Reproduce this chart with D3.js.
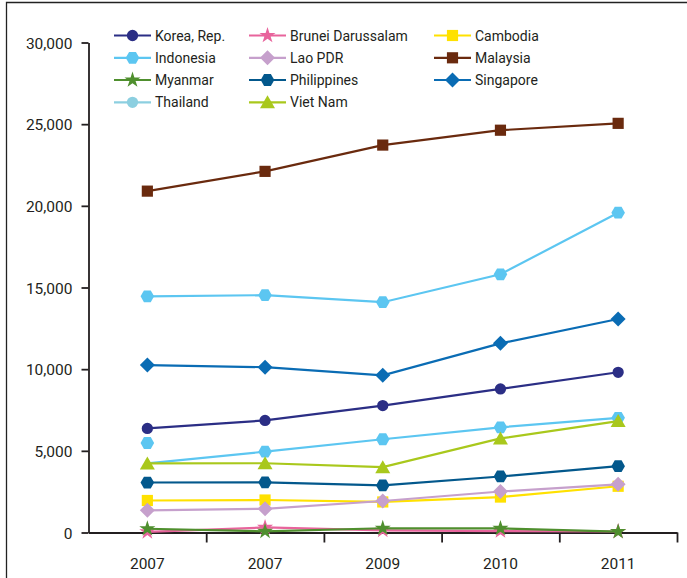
<!DOCTYPE html>
<html>
<head>
<meta charset="utf-8">
<script src="https://cdn.jsdelivr.net/npm/d3@7"></script>
<style>
  html, body { margin: 0; padding: 0; background: #fff; }
  svg { display: block; font-family: Roboto, "Noto Sans", sans-serif; }
</style>
</head>
<body>
<svg id="chart" width="687" height="578"></svg>
<script>
// ---- data ----
const categories = ["2007", "2007", "2009", "2010", "2011"];
const yTicks = [0, 5000, 10000, 15000, 20000, 25000, 30000];

const seriesNames = ["Korea, Rep.", "Brunei Darussalam", "Cambodia", "Indonesia", "Lao PDR",
  "Malaysia", "Myanmar", "Philippines", "Singapore", "Thailand", "Viet Nam"];

const korea       = [6370, 6860, 7770, 8790, 9810];
const brunei      = [40, 310, 130, 90, 60];
const cambodia    = [1960, 1990, 1870, 2170, 2830];
const indonesia   = [14460, 14530, 14100, 15810, 19580];
const lao         = [1360, 1450, 1930, 2510, 2950];
const malaysia    = [20900, 22110, 23720, 24630, 25050];
const myanmar     = [230, 70, 260, 250, 50];
const philippines = [3060, 3070, 2880, 3430, 4060];
const singapore   = [10250, 10120, 9620, 11580, 13070];
const thailandLine    = [4230, 4950, 5710, 6440, 7020];
const thailandMarkers = [5480, 4950, 5710, 6440, 7020];
const vietnam     = [4230, 4240, 4000, 5760, 6820];

const seriesValues = [korea, brunei, cambodia, indonesia, lao, malaysia, myanmar,
  philippines, singapore, thailandLine, vietnam];
const seriesMarkerValues = [korea, brunei, cambodia, indonesia, lao, malaysia, myanmar,
  philippines, singapore, thailandMarkers, vietnam];

// ---- styles ----
const lineColors = ["#2b2e85", "#e8649c", "#ffe100", "#5cc6f1", "#c6a0cc", "#6a2a0e",
  "#4f8f2e", "#03588c", "#0a6cb4", "#5cc6f1", "#a9c81c"];
const legendColors = ["#2b2e85", "#e8649c", "#ffe100", "#5cc6f1", "#c6a0cc", "#6a2a0e",
  "#4f8f2e", "#03588c", "#0a6cb4", "#8ccfe0", "#a9c81c"];
const shapes = ["circle", "star", "square", "hexagon", "diamond", "square",
  "star", "hexagon", "diamond", "hexagon", "triangle"];
const legendShapes = ["circle", "star", "square", "hexagon", "diamond", "square",
  "star", "hexagon", "diamond", "circle", "triangle"];

// ---- layout ----
const svg = d3.select("#chart");
const left = 88.5, right = 677, y0 = 532.5, yTop = 42.5;

svg.append("path")
  .attr("d", "M6.5,578 V2.5 H687")
  .attr("fill", "none").attr("stroke", "#222").attr("stroke-width", 1.3);

const x = d3.scaleBand().domain(d3.range(categories.length)).range([left, right]);
const xBound = d3.scaleLinear().domain([0, categories.length]).range([left, right]);
const y = d3.scaleLinear().domain([0, 30000]).range([y0, yTop]);

// y axis
const yAxis = svg.append("g").attr("transform", `translate(${left},0)`)
  .call(d3.axisLeft(y).tickValues(yTicks).tickSize(7).tickSizeOuter(0).tickPadding(9)
    .tickFormat(d3.format(",")));
yAxis.selectAll("path, line").attr("stroke", "#231f20").attr("stroke-width", 1.8);
yAxis.selectAll("text").attr("font-size", "15.5px").attr("fill", "#231f20")
  .attr("font-family", "Roboto, sans-serif").attr("dy", "0.36em");

// x axis boundary ticks
const xTicksAxis = svg.append("g").attr("transform", `translate(0,${y0})`)
  .call(d3.axisBottom(xBound).tickValues(d3.range(1, categories.length + 1))
    .tickSize(10).tickSizeOuter(0).tickFormat(""));
xTicksAxis.selectAll("path, line").attr("stroke", "#231f20").attr("stroke-width", 1.8);

// x axis labels
const xLab = svg.append("g").attr("transform", `translate(0,${y0})`)
  .call(d3.axisBottom(x).tickSize(0).tickPadding(25).tickFormat(i => categories[i]));
xLab.select(".domain").remove();
xLab.selectAll("text").attr("font-size", "15.5px").attr("fill", "#231f20")
  .attr("font-family", "Roboto, sans-serif");

// markers
function hexPath(r) {
  const pts = d3.range(6).map(k => {
    const a = Math.PI / 3 * k;
    return [r * Math.cos(a), r * Math.sin(a)];
  });
  return "M" + pts.map(p => p.join(",")).join("L") + "Z";
}
function markerPath(shape) {
  switch (shape) {
    case "circle": return d3.symbol(d3.symbolCircle, 100)();
    case "star": return d3.symbol(d3.symbolStar, 80)();
    case "square": return d3.symbol(d3.symbolSquare, 125)();
    case "diamond": return "M0,-7.5L7.5,0L0,7.5L-7.5,0Z";
    case "triangle": return "M0,-7L7.5,6L-7.5,6Z";
    case "hexagon": return hexPath(6.8);
  }
}

const line = d3.line().x((d, i) => x(i) + x.bandwidth() / 2).y(d => y(d));

seriesValues.forEach((vals, s) => {
  const g = svg.append("g");
  g.append("path").attr("d", line(vals)).attr("fill", "none")
    .attr("stroke", lineColors[s]).attr("stroke-width", 2.2);
  g.selectAll("path.m").data(seriesMarkerValues[s]).join("path").attr("class", "m")
    .attr("d", markerPath(shapes[s]))
    .attr("transform", (d, i) => `translate(${x(i) + x.bandwidth() / 2},${y(d)})`)
    .attr("fill", lineColors[s]);
});

// legend
const legColX = [114, 249, 434];
const legRowY = [35.5, 57.8, 80, 102.3];
const leg = svg.append("g");
seriesNames.forEach((name, s) => {
  const cx = legColX[s % 3], cy = legRowY[Math.floor(s / 3)];
  const g = leg.append("g").attr("transform", `translate(${cx},${cy})`);
  g.append("line").attr("x1", 0).attr("x2", 37).attr("y1", 0).attr("y2", 0)
    .attr("stroke", legendColors[s]).attr("stroke-width", 2.2);
  g.append("path").attr("d", markerPath(legendShapes[s]))
    .attr("transform", "translate(18.5,0)").attr("fill", legendColors[s]);
  g.append("text").attr("x", 41).attr("y", 0).attr("dy", "0.36em")
    .attr("font-size", "14px").attr("fill", "#231f20").text(name);
});
</script>
</body>
</html>
